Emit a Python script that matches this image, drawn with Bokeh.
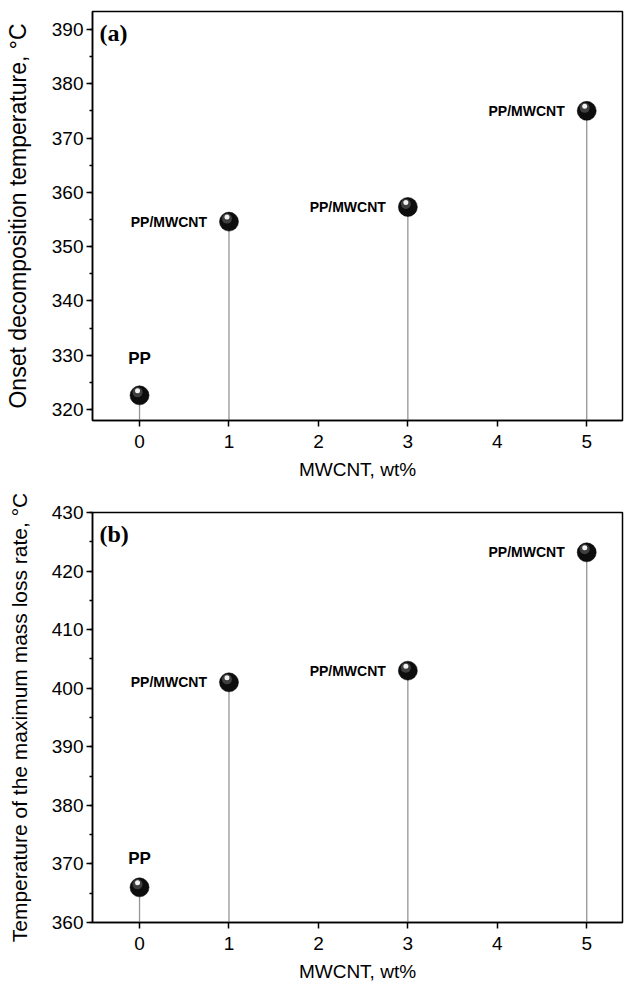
from bokeh.plotting import figure
from bokeh.layouts import column
from bokeh.models import ColumnDataSource, SingleIntervalTicker, FixedTicker, Label
from bokeh.embed import file_html
from bokeh.resources import INLINE
from bokeh.core.properties import value

# ---- data ----
mwcnt = [0, 1, 3, 5]
onset_temp = [322.6, 354.6, 357.3, 375.0]
max_rate_temp = [366.0, 401.0, 403.0, 423.2]
sample_labels = ["PP", "PP/MWCNT", "PP/MWCNT", "PP/MWCNT"]
x_ticks = [0, 1, 2, 3, 4, 5]

FONT = "Liberation Sans"
X_RANGE = (-0.526, 5.40)
FRAME_W = 530


def make_panel(vals, ylabel, ylabel_size, tag, y_range, y_ticks, height, b_top, b_bottom, pp_offset, frame_h):
    p = figure(width=625, height=height, x_range=X_RANGE, y_range=y_range,
               output_backend="svg", toolbar_location=None,
               min_border_left=92, min_border_right=3,
               min_border_top=b_top, min_border_bottom=b_bottom)
    p.grid.visible = False
    p.outline_line_color = "black"
    p.outline_line_width = 1.5
    p.background_fill_color = "white"
    p.border_fill_color = "white"

    # axes
    p.xaxis.ticker = FixedTicker(ticks=x_ticks)
    p.yaxis.ticker = SingleIntervalTicker(interval=y_ticks, num_minor_ticks=2)
    for ax in (p.xaxis[0], p.yaxis[0]):
        ax.axis_line_color = "black"
        ax.axis_line_width = 1.5
        ax.major_tick_line_color = "black"
        ax.major_tick_line_width = 1.5
        ax.minor_tick_line_color = "black"
        ax.minor_tick_line_width = 1.5
        ax.major_tick_in = 0
        ax.major_tick_out = 6
        ax.minor_tick_in = 0
        ax.minor_tick_out = 3
        ax.major_label_text_font = FONT
        ax.major_label_text_font_size = "19px"
        ax.major_label_text_color = "black"
        ax.axis_label_text_font = FONT
        ax.axis_label_text_font_style = "normal"
        ax.axis_label_text_color = "black"
    p.xaxis.minor_tick_line_color = None
    p.xaxis.major_label_standoff = 8
    p.xaxis.axis_label = "MWCNT, wt%"
    p.xaxis.axis_label_text_font_size = "19px"
    p.xaxis.axis_label_standoff = 8
    p.yaxis.major_label_standoff = 3
    p.yaxis.axis_label = ylabel
    p.yaxis.axis_label_text_font_size = ylabel_size
    p.yaxis.axis_label_standoff = 18

    ybottom = y_range[0]
    src = ColumnDataSource(dict(x=mwcnt, y=vals, y0=[ybottom] * len(vals), lab=sample_labels))

    # stems
    p.segment(x0="x", y0="y0", x1="x", y1="y", source=src, line_color="#959595", line_width=1.3)

    # spheres
    px_x = (X_RANGE[1] - X_RANGE[0]) / FRAME_W
    px_y = (y_range[1] - y_range[0]) / frame_h
    hx1 = [v - 2 * px_x for v in mwcnt]
    hy1 = [v + 3 * px_y for v in vals]
    hx2 = [v - 2 * px_x for v in mwcnt]
    hy2 = [v + 4.5 * px_y for v in vals]
    p.scatter(x="x", y="y", source=src, size=19, fill_color="#0d0d0d", line_color="#000000", line_width=0.5)
    p.scatter(x=hx1, y=hy1, size=10, fill_color="#6a6a6a", fill_alpha=0.55, line_color=None)
    p.scatter(x=hx2, y=hy2, size=5, fill_color="#f2f2f2", line_color=None)

    # labels
    pp_src = ColumnDataSource(dict(x=mwcnt[:1], y=vals[:1], lab=sample_labels[:1]))
    comp_src = ColumnDataSource(dict(x=mwcnt[1:], y=vals[1:], lab=sample_labels[1:]))
    p.text(x="x", y="y", text="lab", source=pp_src, text_align="center", text_baseline="middle",
           y_offset=pp_offset, text_font=value(FONT), text_font_style="bold",
           text_font_size="17px", text_color="black")
    p.text(x="x", y="y", text="lab", source=comp_src, text_align="right", text_baseline="middle",
           x_offset=-22, text_font=value(FONT), text_font_style="bold",
           text_font_size="14px", text_color="black")

    p.add_layout(Label(x=7, y=frame_h - 21, x_units="screen", y_units="screen", text=tag,
                       text_font="Liberation Serif", text_font_style="bold",
                       text_font_size="24px", text_baseline="middle", text_color="black"))
    return p


pa = make_panel(onset_temp, "Onset decomposition temperature, °C", "23px", "(a)",
                (317.97, 393.3), 10, height=486, b_top=11, b_bottom=66, pp_offset=-37, frame_h=409)
pb = make_panel(max_rate_temp, "Temperature of the maximum mass loss rate, °C", "21px", "(b)",
                (360, 430), 10, height=502, b_top=26, b_bottom=66, pp_offset=-29, frame_h=410)

layout = column(pa, pb, spacing=0)
open("out.html", "w").write(file_html(layout, INLINE))
